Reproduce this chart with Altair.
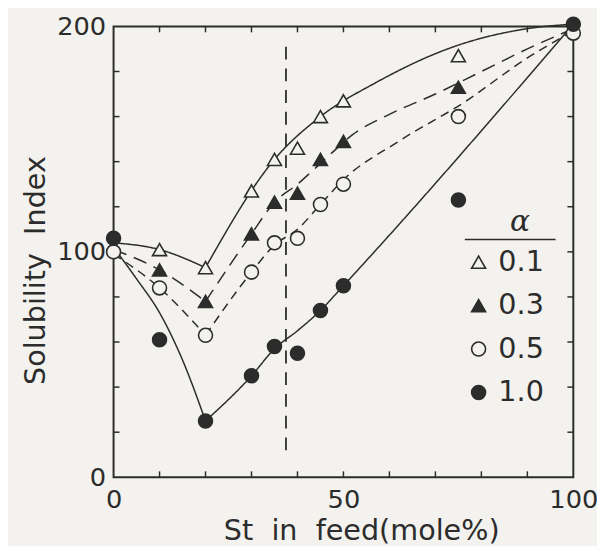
import altair as alt
import pandas as pd

INK = "#2c2c2c"
BG = "#f3f2ee"

alpha_levels = ["0.1", "0.3", "0.5", "1.0"]

# measured points (St in feed, Solubility Index)
x_a01 = [10, 20, 30, 35, 40, 45, 50, 75]
y_a01 = [101, 93, 127, 141, 146, 160, 167, 187]
x_a03 = [10, 20, 30, 35, 40, 45, 50, 75]
y_a03 = [92, 78, 108, 122, 126, 141, 149, 173]
x_a05 = [0, 10, 20, 30, 35, 40, 45, 50, 75, 100]
y_a05 = [100, 84, 63, 91, 104, 106, 121, 130, 160, 197]
x_a10 = [0, 10, 20, 30, 35, 40, 45, 50, 75, 100]
y_a10 = [106, 61, 25, 45, 58, 55, 74, 85, 123, 201]

# drawn curves (falling and rising branches)
c01_down_x = [0, 10, 20]
c01_down_y = [104, 101, 93]
c01_up_x = [20, 35, 45, 57, 74, 90, 100]
c01_up_y = [93, 141, 160, 175, 191, 199, 201]
c03_down_x = [0, 10, 20]
c03_down_y = [101, 92, 78]
c03_up_x = [20, 30, 35, 40, 47, 52, 60, 70, 80, 90, 100]
c03_up_y = [78, 108, 122, 130, 143, 152, 161, 170, 180, 190, 199]
c05_down_x = [0, 10, 20]
c05_down_y = [99, 84, 63]
c05_up_x = [20, 30, 35, 40, 45, 50, 62, 76, 90, 100]
c05_up_y = [63, 91, 103, 110, 121, 132, 149, 166, 186, 198]
c10_down_x = [0, 5, 10, 15, 20]
c10_down_y = [102, 88, 73, 52, 25]
c10_up_x = [20, 30, 35, 40, 45, 50, 100]
c10_up_y = [25, 45, 57, 65, 74, 85, 201]

# composition boundary (dashed vertical)
vline_x = [37.5]
vline_y0 = [12]
vline_y1 = [193]

x_tick_vals = [10, 20, 30, 40, 50, 60, 70, 80, 90]
y_tick_vals = [20, 40, 60, 80, 100, 120, 140, 160, 180]
x_label_vals = [0, 50, 100]
y_label_vals = [0, 100, 200]

pts_rows = []
for a, xs_, ys_ in [("0.1", x_a01, y_a01), ("0.3", x_a03, y_a03),
                    ("0.5", x_a05, y_a05), ("1.0", x_a10, y_a10)]:
    for xv, yv in zip(xs_, ys_):
        pts_rows.append({"x": xv, "y": yv, "alpha": a})
pts_df = pd.DataFrame(pts_rows)

line_rows = []
for a, seg, xs_, ys_ in [
    ("0.1", "0.1d", c01_down_x, c01_down_y), ("0.1", "0.1u", c01_up_x, c01_up_y),
    ("0.3", "0.3d", c03_down_x, c03_down_y), ("0.3", "0.3u", c03_up_x, c03_up_y),
    ("0.5", "0.5d", c05_down_x, c05_down_y), ("0.5", "0.5u", c05_up_x, c05_up_y),
    ("1.0", "1.0d", c10_down_x, c10_down_y), ("1.0", "1.0u", c10_up_x, c10_up_y),
]:
    for xv, yv in zip(xs_, ys_):
        line_rows.append({"x": xv, "y": yv, "alpha": a, "seg": seg})
line_df = pd.DataFrame(line_rows)

W, H = 466, 457
FONT = "DejaVu Sans"

xscale = alt.Scale(domain=[0, 100], nice=False, zero=False)
yscale = alt.Scale(domain=[0, 200], nice=False, zero=False)

xaxis = alt.Axis(values=x_label_vals, title="St\u00a0\u00a0in\u00a0\u00a0feed(mole%)", grid=False,
                 domain=False, ticks=False, tickSize=0, labelFontSize=26, labelFont=FONT,
                 labelColor=INK, labelPadding=10, labelFlush=False, titleFontSize=29,
                 titleFont=FONT, titleFontWeight="normal", titleColor=INK,
                 titleX=251, titleY=54, titleBaseline="middle", titleAlign="center")
yaxis = alt.Axis(values=y_label_vals, title="Solubility\u00a0\u00a0Index", grid=False,
                 domain=False, ticks=False, tickSize=0, labelFontSize=26, labelFont=FONT,
                 labelColor=INK, labelPadding=8, labelFlush=False, titleFontSize=29,
                 titleFont=FONT, titleFontWeight="normal", titleColor=INK,
                 titleX=-79, titleY=247, titleBaseline="middle", titleAlign="center")

X = alt.X("x:Q", scale=xscale, axis=xaxis)
Y = alt.Y("y:Q", scale=yscale, axis=yaxis)

shape_scale = alt.Scale(domain=alpha_levels, range=["triangle-up", "triangle-up", "circle", "circle"])
fill_scale = alt.Scale(domain=alpha_levels, range=[BG, INK, BG, INK])
size_scale = alt.Scale(domain=alpha_levels, range=[200, 200, 170, 300])

lines = alt.Chart(line_df).mark_line(interpolate="monotone", strokeWidth=1.5, color=INK).encode(
    x=X, y=Y,
    strokeDash=alt.StrokeDash("alpha:N", scale=alt.Scale(domain=alpha_levels,
                              range=[[1, 0], [14, 8], [9, 6], [1, 0]]), legend=None),
    detail="seg:N",
)

points = alt.Chart(pts_df).mark_point(filled=True, stroke=INK, strokeWidth=1.6, opacity=1).encode(
    x=X, y=Y,
    shape=alt.Shape("alpha:N", scale=shape_scale, legend=None),
    fill=alt.Fill("alpha:N", scale=fill_scale, legend=None),
    size=alt.Size("alpha:N", scale=size_scale, legend=None),
)

vline = alt.Chart(pd.DataFrame({"x": vline_x, "y": vline_y0, "y2": vline_y1})).mark_rule(
    color=INK, strokeWidth=1.8, strokeDash=[13, 9]).encode(x=X, y=Y, y2="y2:Q")

xt = pd.DataFrame({"x": x_tick_vals})
yt = pd.DataFrame({"y": y_tick_vals})
TL = 6
tick_b = alt.Chart(xt).mark_rule(color=INK, strokeWidth=1.5).encode(
    x=X, y=alt.value(H), y2=alt.value(H - TL))
tick_t = alt.Chart(xt).mark_rule(color=INK, strokeWidth=1.5).encode(
    x=X, y=alt.value(0), y2=alt.value(TL))
tick_l = alt.Chart(yt).mark_rule(color=INK, strokeWidth=1.5).encode(
    y=Y, x=alt.value(0), x2=alt.value(TL))
tick_r = alt.Chart(yt).mark_rule(color=INK, strokeWidth=1.5).encode(
    y=Y, x=alt.value(W), x2=alt.value(W - TL))

# legend drawn inside the plot: title α with underline, then one row per α
LEG_SYM_X, LEG_TXT_X, LEG_Y0, LEG_DY = 370, 390, 239, 44
legend_layers = []
for i, a in enumerate(alpha_levels):
    row = pd.DataFrame({"alpha": [a]})
    yy = LEG_Y0 + LEG_DY * i
    legend_layers.append(
        alt.Chart(row).mark_point(filled=True, stroke=INK, strokeWidth=1.6, opacity=1).encode(
            x=alt.value(LEG_SYM_X), y=alt.value(yy),
            shape=alt.Shape("alpha:N", scale=shape_scale, legend=None),
            fill=alt.Fill("alpha:N", scale=fill_scale, legend=None),
            size=alt.Size("alpha:N", scale=size_scale, legend=None),
        )
    )
    legend_layers.append(
        alt.Chart(row).mark_text(font=FONT, fontSize=29, color=INK, align="left",
                                 baseline="middle").encode(
            x=alt.value(LEG_TXT_X), y=alt.value(yy), text="alpha:N")
    )

alpha_title = alt.Chart(pd.DataFrame({"t": ["α"]})).mark_text(
    font="DejaVu Serif", fontStyle="italic", fontSize=30, color=INK,
    align="center", baseline="middle").encode(
    text="t:N", x=alt.value(412), y=alt.value(198))
alpha_rule = alt.Chart(pd.DataFrame({"t": ["α"]})).mark_rule(color=INK, strokeWidth=1.6).encode(
    x=alt.value(356), x2=alt.value(448), y=alt.value(216))

chart = alt.layer(
    lines, vline, tick_b, tick_t, tick_l, tick_r, points, alpha_title, alpha_rule,
    *legend_layers
).properties(
    width=W, height=H,
    padding={"left": 107, "top": 15, "right": 24, "bottom": 66},
    autosize=alt.AutoSizeParams(type="none"),
    background=BG,
).configure_view(stroke=INK, strokeWidth=2)

chart.save("out.html", embed_options={"renderer": "svg", "actions": False})
